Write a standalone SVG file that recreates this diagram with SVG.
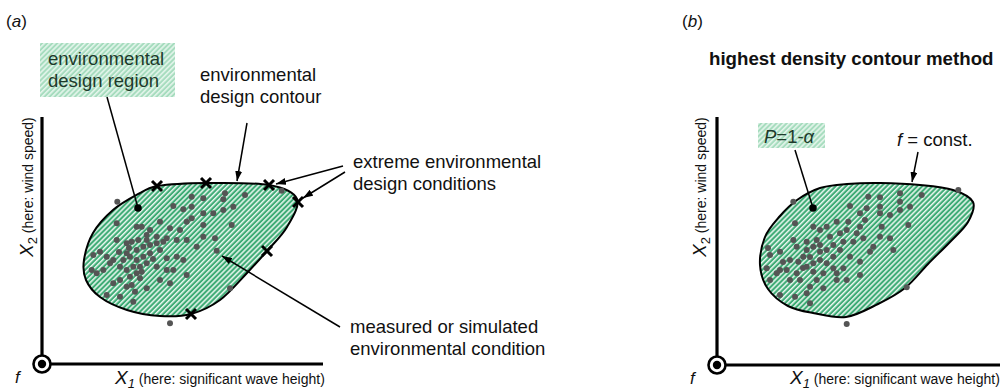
<svg xmlns="http://www.w3.org/2000/svg" width="1000" height="392" viewBox="0 0 1000 392">
<style>
text{font-family:"Liberation Sans",Arial,Helvetica,sans-serif;fill:#111}
.lbl{font-size:18.5px}
.box{font-size:18.5px;fill:#1d3a2a}
.it{font-style:italic}
.ax{font-size:14px}
.axv{stroke:#000;stroke-width:3.2;fill:none}
.region{fill:url(#hatch);stroke:#000;stroke-width:2}
.tagbox{fill:url(#hatchLight)}
.dot{fill:#555}
.cross{stroke:#000;stroke-width:3;stroke-linecap:butt}
.conn{stroke:#000;stroke-width:1.5;fill:none}
</style>
<defs>
<pattern id="hatch" patternUnits="userSpaceOnUse" width="3.6" height="3.6" patternTransform="rotate(45)">
<rect width="3.6" height="3.6" fill="#3eab75"/>
<rect width="1.5" height="3.6" fill="#eaf7f0"/>
</pattern>
<pattern id="hatchLight" patternUnits="userSpaceOnUse" width="3.6" height="3.6" patternTransform="rotate(45)">
<rect width="3.6" height="3.6" fill="#a6dcbe"/>
<rect width="1.6" height="3.6" fill="#e4f5eb"/>
</pattern>
<marker id="arr" markerUnits="userSpaceOnUse" markerWidth="10" markerHeight="7" refX="10" refY="3.5" orient="auto">
<path d="M0,0 L10,3.5 L0,7 z" fill="#000"/>
</marker>
<g id="xm"><line class="cross" x1="-5" y1="-5" x2="5" y2="5"/><line class="cross" x1="-5" y1="5" x2="5" y2="-5"/></g>
</defs>
<rect width="1000" height="392" fill="#fff"/>

<!-- Panel (a) -->
<g id="panel-a-title"><text x="6" y="27" style="font-size:17px">(<tspan class="it">a</tspan>)</text></g>

<g id="axes-a">
<line class="axv" x1="42" y1="117" x2="42" y2="364"/>
<line class="axv" x1="42" y1="364" x2="323" y2="364"/>
<circle cx="42" cy="364" r="8.5" fill="#fff" stroke="#000" stroke-width="2.6"/>
<circle cx="42" cy="364" r="4.2" fill="#000"/>
<text x="15" y="383" class="it" style="font-size:17px">f</text>
<text x="115" y="384" class="ax"><tspan class="it" style="font-size:19px">X</tspan><tspan class="it" style="font-size:13px" dy="4">1</tspan><tspan dy="-4"> (here: significant wave height)</tspan></text>
<text transform="translate(33,257) rotate(-90)" class="ax"><tspan class="it" style="font-size:19px">X</tspan><tspan style="font-size:13px" dy="4">2</tspan><tspan dy="-4"> (here: wind speed)</tspan></text>
</g>

<g id="region-a">
<path class="region" d="M157,186 C168,184.3 187.3,183.2 206,183 C224.7,182.8 253.8,182.3 269,185 C284.2,187.7 294,192 297,199 C300,206 292,218.3 287,227 C282,235.7 273.7,243.3 267,251 C260.3,258.7 254.8,264.8 247,273 C239.2,281.2 229.3,293.2 220,300 C210.7,306.8 201,311.3 191,314 C181,316.7 170.7,316.7 160,316 C149.3,315.3 137,313.2 127,310 C117,306.8 106.8,302 100,297 C93.2,292 88.7,286.2 86,280 C83.3,273.8 82.8,267.8 84,260 C85.2,252.2 88.2,241.3 93,233 C97.8,224.7 105.2,216.7 113,210 C120.8,203.3 132.7,197 140,193 C146,189.5 149,187.5 157,186 Z"/>
</g>

<g id="points-a" class="dot">
<circle cx="191.7" cy="196.7" r="3"/><circle cx="203.3" cy="198.3" r="3"/><circle cx="225" cy="193.3" r="3"/><circle cx="223.3" cy="199.3" r="3"/><circle cx="245" cy="195" r="3"/><circle cx="233.3" cy="206.7" r="3"/><circle cx="223.3" cy="210" r="3"/><circle cx="213.3" cy="213.3" r="3"/><circle cx="203.3" cy="213.3" r="3"/><circle cx="191.7" cy="206.7" r="3"/><circle cx="173.3" cy="206" r="3"/><circle cx="183.3" cy="209.3" r="3"/><circle cx="160" cy="221.7" r="3"/><circle cx="170" cy="228.3" r="3"/><circle cx="180" cy="230" r="3"/><circle cx="186.7" cy="221.7" r="3"/><circle cx="191.7" cy="218.3" r="3"/><circle cx="203.3" cy="225" r="3"/><circle cx="231.7" cy="225" r="3"/><circle cx="215" cy="238.3" r="3"/><circle cx="203.3" cy="236.7" r="3"/><circle cx="196.7" cy="246.7" r="3"/><circle cx="216.7" cy="250.7" r="3"/><circle cx="186.7" cy="240" r="3"/><circle cx="176.7" cy="240" r="3"/><circle cx="166.7" cy="238.3" r="3"/><circle cx="156.7" cy="236.7" r="3"/><circle cx="146.7" cy="235" r="3"/><circle cx="136.7" cy="226.7" r="3"/><circle cx="141.7" cy="226.7" r="3"/><circle cx="116.7" cy="223.3" r="3"/><circle cx="116.7" cy="240" r="3"/><circle cx="126.7" cy="243.3" r="3"/><circle cx="131.7" cy="241.7" r="3"/><circle cx="138.3" cy="240" r="3"/><circle cx="143.3" cy="246.7" r="3"/><circle cx="150" cy="245" r="3"/><circle cx="156.7" cy="243.3" r="3"/><circle cx="163.3" cy="241.7" r="3"/><circle cx="160" cy="250" r="3"/><circle cx="150" cy="253.3" r="3"/><circle cx="143.3" cy="256.7" r="3"/><circle cx="136.7" cy="260" r="3"/><circle cx="130" cy="256.7" r="3"/><circle cx="126.7" cy="253.3" r="3"/><circle cx="123.3" cy="260" r="3"/><circle cx="120" cy="266.7" r="3"/><circle cx="113.3" cy="260" r="3"/><circle cx="110" cy="263.3" r="3"/><circle cx="103.3" cy="270" r="3"/><circle cx="96.7" cy="273.3" r="3"/><circle cx="91.7" cy="270" r="3"/><circle cx="93.3" cy="255" r="3"/><circle cx="100" cy="251.7" r="3"/><circle cx="106.7" cy="256.7" r="3"/><circle cx="133.3" cy="266.7" r="3"/><circle cx="140" cy="266.7" r="3"/><circle cx="146.7" cy="263.3" r="3"/><circle cx="136.7" cy="273.3" r="3"/><circle cx="130" cy="276.7" r="3"/><circle cx="120" cy="280" r="3"/><circle cx="113.3" cy="283.3" r="3"/><circle cx="126.7" cy="286.7" r="3"/><circle cx="131.7" cy="285" r="3"/><circle cx="135" cy="291.7" r="3"/><circle cx="146.7" cy="288.3" r="3"/><circle cx="160" cy="280" r="3"/><circle cx="170" cy="283.3" r="3"/><circle cx="173.3" cy="270" r="3"/><circle cx="183.3" cy="260" r="3"/><circle cx="186.7" cy="275" r="3"/><circle cx="166.7" cy="270" r="3"/><circle cx="156.7" cy="266.7" r="3"/><circle cx="133.3" cy="301.7" r="3"/><circle cx="120" cy="296.7" r="3"/><circle cx="106.7" cy="295" r="3"/><circle cx="136.7" cy="250" r="3"/><circle cx="146.7" cy="240" r="3"/><circle cx="176.7" cy="256.7" r="3"/><circle cx="166.7" cy="258.3" r="3"/><circle cx="140" cy="278.3" r="3"/><circle cx="126.7" cy="270" r="3"/><circle cx="141.7" cy="271.7" r="3"/><circle cx="153" cy="259" r="3"/><circle cx="129" cy="248" r="3"/><circle cx="119" cy="252" r="3"/><circle cx="150" cy="230" r="3"/>
<circle cx="117.3" cy="201.7" r="3"/><circle cx="170" cy="323.3" r="3"/><circle cx="230" cy="288.3" r="3"/><circle cx="281.7" cy="190.7" r="3"/>
</g>

<g id="extremes-a">
<use href="#xm" x="157" y="186"/><use href="#xm" x="206" y="183"/><use href="#xm" x="269" y="185"/><use href="#xm" x="298" y="202"/><use href="#xm" x="267" y="251"/><use href="#xm" x="191" y="314"/>
</g>

<g id="label-design-region">
<rect class="tagbox" x="40" y="43" width="135" height="54"/>
<text class="box" x="48" y="65">environmental</text>
<text class="box" x="48" y="87">design region</text>
</g>
<g id="label-design-contour">
<text class="lbl" x="200" y="81">environmental</text>
<text class="lbl" x="200" y="103">design contour</text>
</g>
<g id="label-extreme">
<text class="lbl" x="353" y="168">extreme environmental</text>
<text class="lbl" x="353" y="190">design conditions</text>
</g>
<g id="label-measured">
<text class="lbl" x="350" y="333">measured or simulated</text>
<text class="lbl" x="350" y="355">environmental condition</text>
</g>

<!-- Panel (b) -->
<g id="panel-b-title">
<text x="682" y="27" style="font-size:17px">(<tspan class="it">b</tspan>)</text>
<text x="709" y="65" style="font-size:18.7px;font-weight:bold">highest density contour method</text>
</g>

<g id="axes-b">
<line class="axv" x1="717" y1="117" x2="717" y2="365"/>
<line class="axv" x1="717" y1="365" x2="1000" y2="365"/>
<circle cx="717" cy="365" r="8.5" fill="#fff" stroke="#000" stroke-width="2.6"/>
<circle cx="717" cy="365" r="4.2" fill="#000"/>
<text x="690" y="384" class="it" style="font-size:17px">f</text>
<text x="790" y="384" class="ax"><tspan class="it" style="font-size:19px">X</tspan><tspan class="it" style="font-size:13px" dy="4">1</tspan><tspan dy="-4"> (here: significant wave height)</tspan></text>
<text transform="translate(706,257) rotate(-90)" class="ax"><tspan class="it" style="font-size:19px">X</tspan><tspan style="font-size:13px" dy="4">2</tspan><tspan dy="-4"> (here: wind speed)</tspan></text>
</g>

<g id="region-b">
<path class="region" d="M820,188 C828.3,185.3 837,184.8 847,184 C857,183.2 867.8,182.8 880,183 C892.2,183.2 907.8,183.8 920,185 C932.2,186.2 944.2,187.2 953,190 C961.8,192.8 970.5,196.7 973,202 C975.5,207.3 971.8,215.3 968,222 C964.2,228.7 956.7,235 950,242 C943.3,249 935.5,256.3 928,264 C920.5,271.7 913.3,281.3 905,288 C896.7,294.7 887.8,299.2 878,304 C868.2,308.8 856.8,315.5 846,317 C835.2,318.5 822.7,314.8 813,313 C803.3,311.2 795.5,310 788,306 C780.5,302 772.7,295.8 768,289 C763.3,282.2 760.5,273.7 760,265 C759.5,256.3 761.7,245.2 765,237 C768.3,228.8 774.7,222.2 780,216 C785.3,209.8 790.3,204.7 797,200 C803.7,195.3 811.7,190.7 820,188 Z"/>
</g>

<g id="points-b" class="dot">
<circle cx="868.3" cy="196.7" r="3"/><circle cx="880" cy="197.3" r="3"/><circle cx="900" cy="193.3" r="3"/><circle cx="921.7" cy="195" r="3"/><circle cx="900" cy="201.7" r="3"/><circle cx="910" cy="206.7" r="3"/><circle cx="880" cy="206.7" r="3"/><circle cx="866.7" cy="208.3" r="3"/><circle cx="850" cy="206" r="3"/><circle cx="860" cy="213.3" r="3"/><circle cx="880" cy="213.3" r="3"/><circle cx="890" cy="215" r="3"/><circle cx="900" cy="210" r="3"/><circle cx="865" cy="220" r="3"/><circle cx="860" cy="226.7" r="3"/><circle cx="848.3" cy="221.7" r="3"/><circle cx="836.7" cy="221.7" r="3"/><circle cx="826.7" cy="226.7" r="3"/><circle cx="813.3" cy="226.7" r="3"/><circle cx="820" cy="230" r="3"/><circle cx="795" cy="223.3" r="3"/><circle cx="793.3" cy="240" r="3"/><circle cx="806.7" cy="241.7" r="3"/><circle cx="816.7" cy="240" r="3"/><circle cx="830" cy="236.7" r="3"/><circle cx="840" cy="233.3" r="3"/><circle cx="846.7" cy="230" r="3"/><circle cx="856.7" cy="233.3" r="3"/><circle cx="853.3" cy="241.7" r="3"/><circle cx="843.3" cy="241.7" r="3"/><circle cx="833.3" cy="245" r="3"/><circle cx="826.7" cy="250" r="3"/><circle cx="820" cy="251.7" r="3"/><circle cx="813.3" cy="246.7" r="3"/><circle cx="806.7" cy="250" r="3"/><circle cx="803.3" cy="256.7" r="3"/><circle cx="798.3" cy="261.7" r="3"/><circle cx="790" cy="260" r="3"/><circle cx="780" cy="251.7" r="3"/><circle cx="770" cy="255" r="3"/><circle cx="766.7" cy="268.3" r="3"/><circle cx="780" cy="270" r="3"/><circle cx="790" cy="280" r="3"/><circle cx="796.7" cy="273.3" r="3"/><circle cx="806.7" cy="266.7" r="3"/><circle cx="813.3" cy="263.3" r="3"/><circle cx="820" cy="260" r="3"/><circle cx="826.7" cy="263.3" r="3"/><circle cx="833.3" cy="268.3" r="3"/><circle cx="843.3" cy="268.3" r="3"/><circle cx="850" cy="256.7" r="3"/><circle cx="860" cy="261.7" r="3"/><circle cx="860" cy="275" r="3"/><circle cx="846.7" cy="280" r="3"/><circle cx="836.7" cy="280" r="3"/><circle cx="823.3" cy="273.3" r="3"/><circle cx="816.7" cy="280" r="3"/><circle cx="810" cy="286.7" r="3"/><circle cx="806.7" cy="293.3" r="3"/><circle cx="800" cy="280" r="3"/><circle cx="823.3" cy="288.3" r="3"/><circle cx="810" cy="303.3" r="3"/><circle cx="795" cy="296.7" r="3"/><circle cx="780" cy="295" r="3"/><circle cx="786.7" cy="270" r="3"/><circle cx="833.3" cy="256.7" r="3"/><circle cx="840" cy="250" r="3"/><circle cx="870" cy="251.7" r="3"/><circle cx="880" cy="236.7" r="3"/><circle cx="890" cy="238.3" r="3"/><circle cx="893.3" cy="250" r="3"/><circle cx="873.3" cy="246.7" r="3"/><circle cx="908.3" cy="225" r="3"/><circle cx="881.7" cy="226.7" r="3"/><circle cx="863.3" cy="238.3" r="3"/><circle cx="768" cy="248" r="3"/><circle cx="776.7" cy="273.3" r="3"/><circle cx="770" cy="280" r="3"/><circle cx="796.7" cy="246.7" r="3"/><circle cx="820" cy="245" r="3"/><circle cx="836.7" cy="273.3" r="3"/><circle cx="813.3" cy="271.7" r="3"/><circle cx="803" cy="268" r="3"/><circle cx="783" cy="262" r="3"/><circle cx="810" cy="257" r="3"/>
<circle cx="793.3" cy="201.7" r="3"/><circle cx="906.7" cy="287.3" r="3"/><circle cx="846.7" cy="324" r="3"/><circle cx="958.3" cy="190" r="3"/>
</g>

<g id="label-probability">
<rect class="tagbox" x="758" y="123" width="67" height="25"/>
<text class="box" x="764" y="143"><tspan class="it">P</tspan>=1-<tspan class="it">α</tspan></text>
</g>
<g id="label-fconst">
<text class="lbl" x="897" y="146"><tspan class="it">f</tspan> = const.</text>
</g>

<g id="connectors">
<line class="conn" x1="107" y1="97" x2="138" y2="208"/>
<circle cx="138" cy="208" r="3.8" fill="#000"/>
<line class="conn" x1="247" y1="123" x2="237" y2="181" marker-end="url(#arr)"/>
<line class="conn" x1="343" y1="166" x2="276" y2="184" marker-end="url(#arr)"/>
<line class="conn" x1="345" y1="172" x2="303" y2="198" marker-end="url(#arr)"/>
<line class="conn" x1="340" y1="327" x2="222" y2="256" marker-end="url(#arr)"/>
<line class="conn" x1="795" y1="150" x2="813" y2="208"/>
<circle cx="813" cy="208" r="3.8" fill="#000"/>
<line class="conn" x1="918" y1="152" x2="912" y2="182" marker-end="url(#arr)"/>
</g>
</svg>
